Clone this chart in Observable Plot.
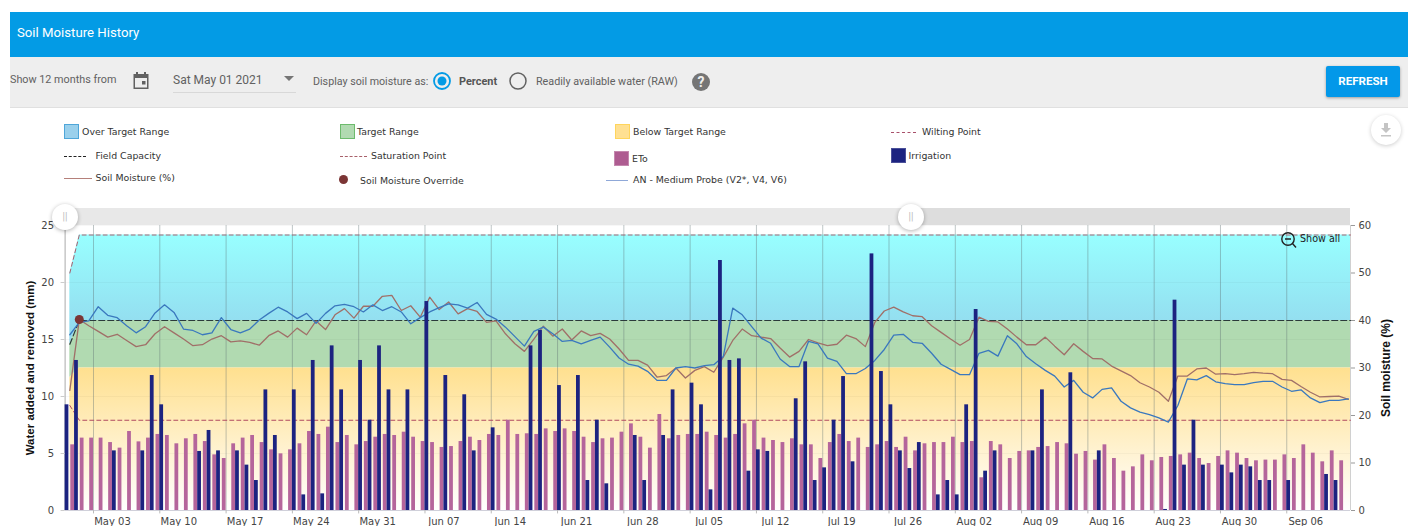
<!DOCTYPE html>
<html><head><meta charset="utf-8">
<script src="https://cdn.jsdelivr.net/npm/d3@7"></script>
<script src="https://cdn.jsdelivr.net/npm/@observablehq/plot@0.6"></script>
<style>
html,body{margin:0;padding:0;background:#fff;overflow:hidden}
#root{position:relative;width:1408px;height:526px;overflow:hidden;font-family:Roboto,sans-serif;color:#555}
.abs{position:absolute;white-space:nowrap}
.lg{position:absolute;white-space:nowrap;font:9.4px "DejaVu Sans",sans-serif;color:#333;line-height:12px;transform:translateY(-6px)}
.sw{position:absolute;box-sizing:border-box;width:15px;height:15px;border:1px solid}
.dash{position:absolute;height:0;border-top:1px dashed}
.ln{position:absolute;height:0;border-top:1.2px solid}
.handle{position:absolute;width:26px;height:26px;border-radius:50%;background:#fff;box-shadow:0 1px 4px rgba(0,0,0,.3);color:#bbb;font:10px Roboto;text-align:center;line-height:26px}
</style></head><body>
<div id="root">
  <div class="abs" style="left:10px;top:12px;right:0;height:45px;background:#039BE5"></div>
  <div class="abs" style="left:17px;top:26px;color:#fff;font:400 13.200px/14px Roboto">Soil Moisture History</div>
  <div class="abs" style="left:10px;top:57px;right:0;height:50px;background:#EEEEEE;border-bottom:1px solid #E0E0E0"></div>
  <div class="abs" style="left:10px;top:73px;font:10.800px/14px Roboto;color:#616161">Show 12 months from</div>
  <svg class="abs" style="left:132px;top:71px" width="18" height="19" viewBox="0 0 18 19"><path fill="#616161" d="M4 1h2v2h6V1h2v2h2.5v15H1.500V3H4zM3 7v9.500h12V7zM10 10h3.500v3.500H10z"/></svg>
  <div class="abs" style="left:173px;top:73px;font:12px/15px Roboto;color:#616161">Sat May 01 2021</div>
  <div class="abs" style="left:173px;top:92px;width:123px;border-top:1px solid #D8D8D8"></div>
  <div class="abs" style="left:284px;top:76px;width:0;height:0;border-left:5px solid transparent;border-right:5px solid transparent;border-top:5px solid #757575"></div>
  <div class="abs" style="left:313px;top:74px;font:10.700px/15px Roboto;color:#616161">Display soil moisture as:</div>
  <svg class="abs" style="left:432px;top:71px" width="20" height="20"><circle cx="10" cy="10" r="8" fill="none" stroke="#039BE5" stroke-width="1.800"/><circle cx="10" cy="10" r="4.500" fill="#039BE5"/></svg>
  <div class="abs" style="left:459px;top:74px;font:700 10.900px/15px Roboto;color:#555">Percent</div>
  <svg class="abs" style="left:508px;top:71px" width="20" height="20"><circle cx="10" cy="10" r="8" fill="none" stroke="#616161" stroke-width="1.500"/></svg>
  <div class="abs" style="left:536px;top:74px;font:10.750px/15px Roboto;color:#616161">Readily available water (RAW)</div>
  <div class="abs" style="left:692px;top:73px;width:18px;height:18px;border-radius:50%;background:#757575;color:#EEE;font:700 14px/18px Roboto;text-align:center">?</div>
  <div class="abs" style="left:1326px;top:66px;width:74px;height:31px;background:#0398E9;border-radius:2px;box-shadow:0 1px 3px rgba(0,0,0,.35);color:#fff;font:700 11.600px/31px Roboto;text-align:center">REFRESH</div>

  <div class="sw" style="left:64px;top:124px;background:#9AD0EC;border-color:#4FA6D9"></div><div class="lg" style="left:82px;top:132px">Over Target Range</div>
  <div class="sw" style="left:340px;top:124px;background:#B1DAB1;border-color:#6DBB6D"></div><div class="lg" style="left:357px;top:132px">Target Range</div>
  <div class="sw" style="left:615px;top:124px;background:#FFE092;border-color:#FFD55C"></div><div class="lg" style="left:633px;top:132px">Below Target Range</div>
  <div class="dash" style="left:891px;top:132px;width:25px;border-color:#A8506A"></div><div class="lg" style="left:922px;top:132px">Wilting Point</div>
  <div class="dash" style="left:64px;top:156px;width:22px;border-top:1px dashed #222"></div><div class="lg" style="left:95.500px;top:156px">Field Capacity</div>
  <div class="dash" style="left:340px;top:156px;width:27px;border-color:#A8606A"></div><div class="lg" style="left:371px;top:156px">Saturation Point</div>
  <div class="sw" style="left:614px;top:151px;background:#AE5C91;border-color:#C488AE"></div><div class="lg" style="left:632px;top:158.500px">ETo</div>
  <div class="sw" style="left:891px;top:148px;background:#1C2380;border-color:#4A5099"></div><div class="lg" style="left:908.500px;top:156px">Irrigation</div>
  <div class="ln" style="left:64px;top:178px;width:28px;border-color:#B5807A"></div><div class="lg" style="left:95.500px;top:178px">Soil Moisture (%)</div>
  <div class="abs" style="left:339px;top:175px;width:9px;height:9px;border-radius:50%;background:#7B3535"></div><div class="lg" style="left:360px;top:180.500px">Soil Moisture Override</div>
  <div class="ln" style="left:606px;top:180px;width:22px;border-color:#8FA8D8"></div><div class="lg" style="left:633px;top:180px">AN - Medium Probe (V2*, V4, V6)</div>
  <div class="abs" style="left:1371px;top:115px;width:30px;height:30px;border-radius:50%;background:#fff;box-shadow:0 1px 4px rgba(0,0,0,.2)"></div>
  <svg class="abs" style="left:1379px;top:122px" width="14" height="16"><path fill="#C4C4C4" d="M5 1h4v5h3L7 11 2 6h3zM2 13h10v1.500H2z"/></svg>
</div>
<script>
// ---------- data ----------
const startDate = Date.UTC(2021, 3, 30);
const tickLabels = ["2021-05-03","2021-05-10","2021-05-17","2021-05-24","2021-05-31","2021-06-07","2021-06-14","2021-06-21","2021-06-28","2021-07-05","2021-07-12","2021-07-19","2021-07-26","2021-08-02","2021-08-09","2021-08-16","2021-08-23","2021-08-30","2021-09-06"];
const etoValues = [0,5.76,6.35,6.35,6.35,5.96,5.47,6.93,6.02,6.35,
6.67,6.58,5.85,6.29,6.67,6.05,4.88,4.56,5.85,6.35,
6.58,5.96,5.32,4.97,5.32,5.85,6.93,6.67,7.31,5.96,
6.58,5.76,6.05,6.43,6.67,6.58,6.87,6.43,6.05,5.96,
5.53,5.61,6.05,6.43,6.14,6.67,6.58,7.92,6.67,6.73,
6.67,7.16,6.93,7.16,6.93,6.43,5.96,6.29,6.35,6.87,
7.6,6.43,5.47,8.42,6.29,6.58,6.67,6.67,6.87,6.58,
6.35,6.67,7.6,7.92,6.35,6.14,5.96,6.29,5.76,5.76,
4.56,5.96,6.67,6.05,6.35,5.53,5.76,6.05,5.53,6.43,
5.23,5.85,5.96,5.96,6.43,5.96,6.05,2.87,6.05,5.76,
4.56,5.18,5.23,5.53,5.61,5.96,5.85,4.94,5.18,4.42,
5.76,4.56,3.45,3.83,4.88,4.36,4.65,4.74,4.88,5.03,
4.56,4.12,4.74,5.23,5.03,4.56,4.36,4.42,4.42,4.88,
4.56,5.76,5.03,4.27,5.23,4.36];
const irrigationValues = [9.27,13.16,0,0,0,5.23,0,0,5.23,11.84,
9.27,0,0,0,5.18,7.02,5.23,0,5.23,3.98,
2.63,10.58,6.58,0,10.58,1.37,13.16,1.46,14.44,10.58,
0,13.16,7.92,14.44,10.58,0,10.58,0,18.33,0,
11.84,0,10.15,5.23,0,7.25,0,0,0,14.44,
15.79,0,10.96,0,11.84,2.63,7.92,2.34,0,0,
6.58,2.63,0,6.58,10.58,0,11.17,9.27,1.81,21.93,
13.16,13.3,3.45,5.32,5.18,0,0,9.8,13.04,2.63,
3.74,7.92,11.75,4.27,0,22.51,12.19,9.27,5.23,3.68,
5.96,0,1.37,2.63,1.37,9.27,17.63,3.45,5.23,0,
0,0,5.23,10.58,0,0,12.08,0,0,5.23,
0,0,0,0,0,0,0.09,18.45,3.98,7.92,
3.98,0,3.98,3.3,3.98,3.83,2.63,2.63,0,2.63,
0,0,0,3.16,2.63,0];
const soilMoisture = [25.3,40.2,38.9,37.7,36.5,37.1,35.8,34.5,34.9,37.2,
38.7,37.4,36.1,34.7,34.9,36.1,36.8,35.5,35.7,35.4,
34.8,36.8,37.8,36.5,38.4,37.0,39.9,38.1,41.2,42.5,
40.5,43.0,43.0,45.1,45.3,42.1,43.1,40.7,44.9,42.3,
43.9,41.4,42.5,41.9,39.6,39.9,37.2,35.1,33.5,36.1,
38.8,36.7,38.2,35.9,37.8,36.8,37.3,36.1,34.0,31.6,
31.6,30.6,28.1,28.4,30.0,27.9,29.5,30.3,29.1,32.3,
35.8,38.2,36.8,36.5,36.2,34.2,32.3,33.5,36.0,35.3,
34.7,35.0,36.9,36.2,34.5,39.6,42.0,42.8,41.8,41.0,
40.8,38.9,37.5,36.1,34.8,36.0,40.7,39.8,39.7,38.2,
36.5,34.9,34.9,36.5,34.6,32.8,35.1,33.5,32.0,31.9,
30.4,29.4,28.4,26.9,26.0,24.9,23.0,28.3,28.3,29.8,
30.0,28.7,28.8,28.6,28.8,29.1,28.9,28.8,27.6,27.4,
26.1,24.9,23.9,24.0,24.1,23.4];
const probeValues = [37.0,39.6,39.9,42.9,41.1,40.6,38.9,37.4,38.7,41.6,
43.3,41.7,38.2,37.9,37.0,37.4,40.6,38.1,37.4,38.2,
40.1,41.5,42.8,41.8,40.4,41.5,39.4,41.5,43.1,43.4,
42.9,41.8,43.3,42.1,42.9,41.8,39.3,40.6,41.8,42.7,
43.5,43.3,42.6,43.8,41.3,40.3,38.6,36.6,34.6,37.7,
38.6,37.2,35.6,35.8,35.1,35.8,36.5,34.4,32.1,30.8,
30.4,29.3,27.4,27.4,30.0,30.3,30.0,30.5,30.7,32.4,
42.6,41.2,38.7,36.3,35.2,31.9,30.3,30.3,35.6,35.1,
32.1,31.4,28.8,28.8,29.9,31.6,33.9,36.9,37.1,35.4,
35.2,33.1,30.8,29.7,28.6,28.6,33.1,33.7,32.5,36.8,
35.1,32.4,30.9,29.5,28.3,26.0,27.4,24.9,23.7,25.5,
25.8,23.0,21.6,20.7,20.2,19.5,18.6,22.1,27.7,27.5,
28.4,27.1,26.7,26.5,26.5,26.9,27.2,27.2,26.0,25.1,
25.4,23.7,22.7,23.2,23.2,23.5];
const limitDays = [0.5, 1.5, 135.73];
const saturationPoint = [50, 58, 58];
const fieldCapacity = [35, 40, 40];
const targetBottom = [28, 30, 30];
const wiltingPoint = [22.1, 19, 19];
const leftTicks = [0, 5, 10, 15, 20, 25];
const rightTicks = [0, 10, 20, 30, 40, 50, 60];
const overrideDay = 1.5, overrideValue = 40.2;

// ---------- helpers ----------
const day = t => new Date(startDate + t * 864e5);
const pct = p => p * 25 / 60;                       // right axis (%) onto the mm scale
const ticks = tickLabels.map(s => new Date(s + "T00:00:00Z"));
const barPx = 0.4;                                  // bar width in days
const eto = etoValues.map((v, i) => ({x1: day(i - barPx), x2: day(i), v}));
const irr = irrigationValues.map((v, i) => ({x1: day(i), x2: day(i + barPx), v}));
const sm = soilMoisture.map((v, i) => ({x: day(i + 0.5), y: pct(v)}));
const probe = probeValues.map((v, i) => ({x: day(i + 0.5), y: pct(v)}));
const limits = limitDays.map((t, i) => ({x: day(t), sat: pct(saturationPoint[i]), fc: pct(fieldCapacity[i]), tb: pct(targetBottom[i]), wp: pct(wiltingPoint[i])}));

const defs = () => {
  const d = d3.create("svg:defs");
  const grad = (id, stops) => {
    const g = d.append("linearGradient").attr("id", id).attr("x1", 0).attr("x2", 0).attr("y1", 0).attr("y2", 1);
    stops.forEach(([o, c]) => g.append("stop").attr("offset", o).attr("stop-color", c));
  };
  grad("overGrad", [[0, "#98FFFF"], [1, "#93D6EC"]]);
  grad("belowGrad", [[0, "#FFE08F"], [1, "#FFFFFF"]]);
  return d.node();
};

const chart = Plot.plot({
  width: 1408, height: 321,
  marginTop: 20, marginBottom: 16, marginLeft: 64.6, marginRight: 58,
  style: {position: "absolute", left: "0", top: "205px", overflow: "visible", fontFamily: "'DejaVu Sans',sans-serif", fontSize: "10px", background: "transparent"},
  x: {type: "utc", domain: [day(0), day(135.73)]},
  y: {domain: [0, 25]},
  marks: [
    defs,
    Plot.areaY(limits, {x: "x", y1: "fc", y2: "sat", fill: "url(#overGrad)"}),
    Plot.areaY(limits, {x: "x", y1: "tb", y2: "fc", fill: "#B1DAB1"}),
    Plot.areaY(limits, {x: "x", y1: 0, y2: "tb", fill: "url(#belowGrad)"}),
    Plot.gridY(leftTicks, {stroke: "#000", strokeOpacity: 0.03}),
    Plot.ruleX(ticks, {stroke: "#5e7074", strokeOpacity: 0.4}),
    Plot.ruleY([0], {stroke: "#D0D0DA"}),
    Plot.ruleX([day(0)], {stroke: "#AAAAAA"}),
    Plot.ruleX([day(135.73)], {stroke: "#D0D0D0"}),
    Plot.line(limits, {x: "x", y: "sat", stroke: "#A8606E", strokeWidth: 1, strokeDasharray: "4,3"}),
    Plot.line(limits, {x: "x", y: "fc", stroke: "#2b3a3a", strokeWidth: 1.2, strokeDasharray: "6,3"}),
    Plot.line(limits, {x: "x", y: "wp", stroke: "#B04A60", strokeWidth: 1, strokeDasharray: "4,3"}),
    Plot.line(sm, {x: "x", y: "y", stroke: "#A06F68", strokeWidth: 1.3}),
    Plot.line(probe, {x: "x", y: "y", stroke: "#3A78BE", strokeWidth: 1.3}),
    Plot.dot([{x: day(overrideDay), y: pct(overrideValue)}], {x: "x", y: "y", r: 4.5, fill: "#7B3535"}),
    Plot.rect(eto, {x1: "x1", x2: "x2", y1: 0, y2: "v", fill: "#B5659B"}),
    Plot.rect(irr, {x1: "x1", x2: "x2", y1: 0, y2: "v", fill: "#1C2380"}),
    Plot.axisX({ticks, tickSize: 0, tickPadding: 7, tickFormat: d3.utcFormat("%b %d"), dx: 19, fill: "#444", label: null}),
    Plot.ruleX(ticks, {y1: 0, y2: -0.3, stroke: "#BBBBBB"}),
    Plot.axisY({ticks: leftTicks, anchor: "left", tickSize: 4, tickPadding: 7, stroke: "#CCC", fill: "#444", label: null}),
    Plot.axisY({ticks: rightTicks.map(pct), anchor: "right", tickSize: 4, tickPadding: 4, stroke: "#999", fill: "#444", tickFormat: v => String(Math.round(v * 60 / 25)), label: null}),
    Plot.text(["Water added and removed (mm)"], {frameAnchor: "left", dx: -35, rotate: -90, fontWeight: "bold", fontSize: 11.5, fill: "#111", fontFamily: "'Liberation Sans',sans-serif", textAnchor: "middle"}),
    Plot.text(["Soil moisture (%)"], {frameAnchor: "right", dx: 36, rotate: -90, fontWeight: "bold", fontSize: 12, fill: "#111", fontFamily: "'Liberation Sans',sans-serif", textAnchor: "middle"})
  ]
});
const root = document.getElementById("root");
root.appendChild(chart);

// slider and zoom control, over the chart
const overlay = document.createElement("div");
overlay.innerHTML = `
  <div class="abs" style="left:65px;top:208px;width:847px;height:17px;background:#E8E8E8"></div>
  <div class="abs" style="left:912px;top:208px;width:438px;height:17px;background:#DDDDDD"></div>
  <div class="handle" style="left:52px;top:204px">||</div>
  <div class="handle" style="left:898px;top:204px">||</div>
  <svg class="abs" style="left:1280px;top:231px" width="17" height="18"><circle cx="8" cy="8" r="6.2" fill="none" stroke="#222" stroke-width="1.400"/><path d="M5 8h6M12.500 12.500l3.500 4" stroke="#222" stroke-width="1.400" fill="none"/></svg>
  <div class="abs" style="left:1300px;top:233px;font:9.6px/12px 'DejaVu Sans';color:#222">Show all</div>`;
root.appendChild(overlay);
</script>
</body></html>
